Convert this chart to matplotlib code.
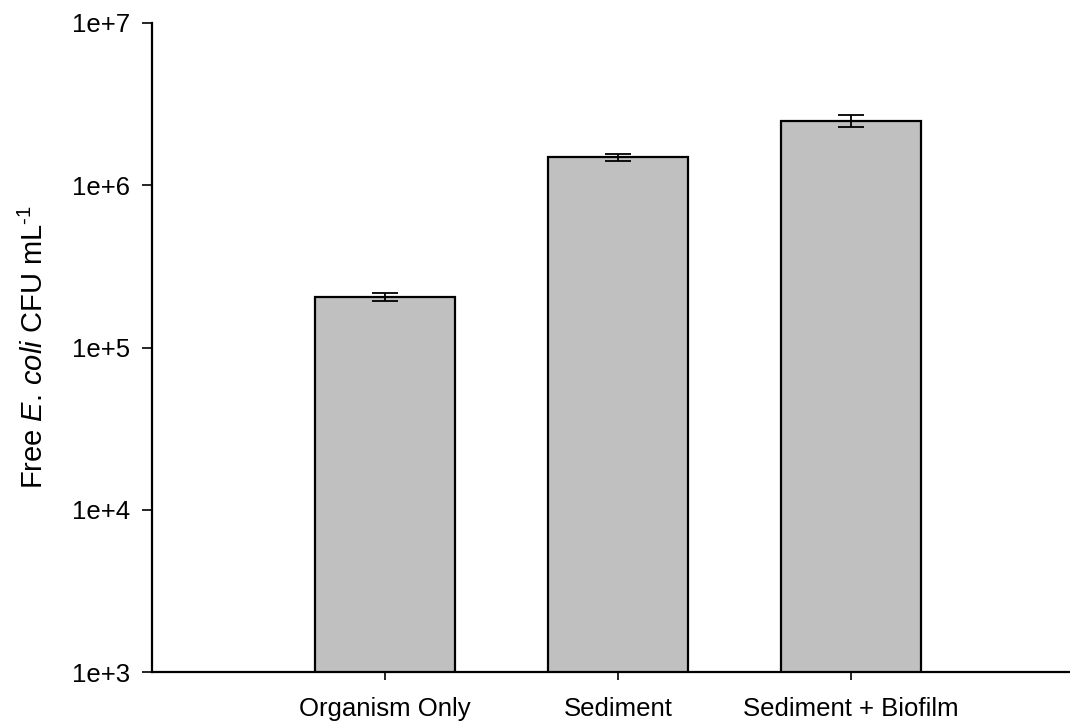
import numpy as np
import matplotlib.pyplot as plt
from matplotlib.ticker import FixedLocator, NullLocator

plt.rcParams['font.family'] = ['Liberation Sans', 'DejaVu Sans']
plt.rcParams['mathtext.fontset'] = 'custom'
plt.rcParams['mathtext.rm'] = 'Liberation Sans'
plt.rcParams['mathtext.it'] = 'Liberation Sans:italic'

categories = ['Organism Only', 'Sediment', 'Sediment + Biofilm']
cfu_mean = [2.05e5, 1.486e6, 2.50e6]
cfu_err = [1.2e4, 7.5e4, 2.1e5]
ytick_vals = [1e3, 1e4, 1e5, 1e6, 1e7]
ytick_labels = ['1e+3', '1e+4', '1e+5', '1e+6', '1e+7']

fig = plt.figure(figsize=(10.7, 7.28), dpi=100)
ax = fig.add_axes([152 / 1070, 1 - 672 / 728, 1 - 152 / 1070, (672 - 23) / 728])

pos = np.arange(1, len(categories) + 1)
ax.bar(pos, cfu_mean, width=0.6, color='#c0c0c0', edgecolor='black',
       linewidth=1.6, zorder=2)
ax.errorbar(pos, cfu_mean, yerr=cfu_err, fmt='none', ecolor='black',
            elinewidth=1.3, capsize=9.5, capthick=1.3, zorder=3)

ax.set_yscale('log')
ax.set_ylim(1e3, 1e7)
ax.set_xlim(0, 3.94)
ax.yaxis.set_major_locator(FixedLocator(ytick_vals))
ax.set_yticklabels(ytick_labels)
ax.yaxis.set_minor_locator(NullLocator())
ax.set_xticks(pos)
ax.set_xticklabels(categories)

for s in ['top', 'right']:
    ax.spines[s].set_visible(False)
for s in ['left', 'bottom']:
    ax.spines[s].set_linewidth(1.6)

ax.tick_params(axis='y', direction='out', length=7, width=1.2, labelsize=18.5, pad=9)
ax.tick_params(axis='x', direction='out', length=6, width=1.2, labelsize=18.5, pad=12)

ax.set_ylabel(r'Free $\mathit{E.\,coli}$ CFU mL$^{\text{-}1}$',
              fontsize=21, labelpad=16)

fig.savefig('out.png', dpi=100)
